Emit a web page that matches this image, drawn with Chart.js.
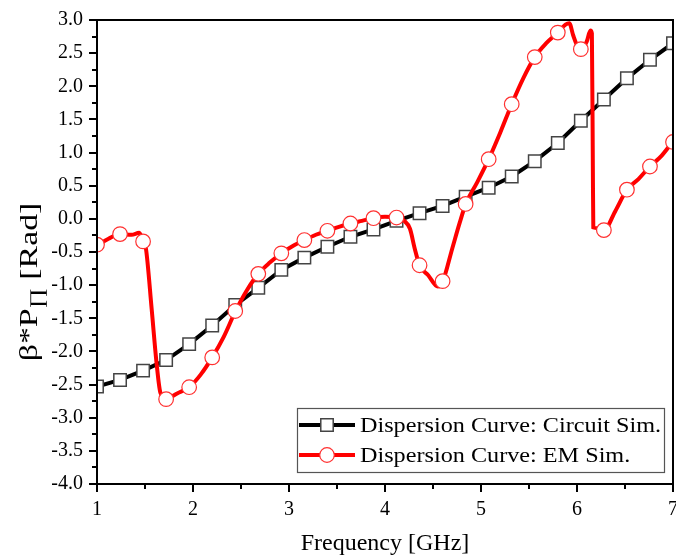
<!DOCTYPE html>
<html>
<head>
<meta charset="utf-8">
<script src="https://cdn.jsdelivr.net/npm/chart.js@4"></script>
<style>
html,body{margin:0;padding:0;background:#fff;}
#wrap{width:676px;height:560px;}
</style>
</head>
<body>
<div id="wrap"><canvas id="c" width="676" height="560"></canvas></div>
<script>
// ---- data ----
const markerFreq = [1.00,1.24,1.48,1.72,1.96,2.20,2.44,2.68,2.92,3.16,3.40,3.64,3.88,4.12,4.36,4.60,4.84,5.08,5.32,5.56,5.80,6.04,6.28,6.52,6.76,7.00];
const circuitVals = [-2.53,-2.43,-2.29,-2.13,-1.89,-1.61,-1.30,-1.04,-0.77,-0.585,-0.42,-0.27,-0.16,-0.03,0.085,0.195,0.335,0.47,0.64,0.87,1.145,1.48,1.80,2.12,2.40,2.65];
const emMarkerVals = [-0.39,-0.23,-0.34,-2.72,-2.54,-2.09,-1.39,-0.83,-0.52,-0.32,-0.18,-0.07,0.01,0.02,-0.70,-0.94,0.225,0.90,1.73,2.44,2.81,2.56,-0.17,0.44,0.79,1.16];
const emLineFreq = [1.00,1.12,1.24,1.36,1.44,1.48,1.51,1.57,1.62,1.66,1.72,1.84,1.96,2.08,2.20,2.32,2.44,2.56,2.68,2.80,2.92,3.04,3.16,3.28,3.40,3.52,3.64,3.76,3.88,4.00,4.12,4.20,4.26,4.31,4.36,4.45,4.55,4.60,4.70,4.78,4.84,4.96,5.08,5.20,5.32,5.44,5.56,5.68,5.80,5.88,5.92,5.96,6.00,6.04,6.10,6.14,6.155,6.165,6.17,6.22,6.28,6.40,6.52,6.64,6.76,6.88,7.00];
const emLineVals = [-0.40,-0.30,-0.23,-0.24,-0.21,-0.33,-0.45,-1.37,-2.17,-2.62,-2.71,-2.63,-2.54,-2.35,-2.09,-1.78,-1.40,-1.08,-0.83,-0.66,-0.52,-0.41,-0.32,-0.24,-0.18,-0.12,-0.07,-0.03,0.01,0.03,0.02,-0.03,-0.15,-0.45,-0.70,-0.85,-1.02,-0.95,-0.45,-0.05,0.22,0.55,0.90,1.30,1.73,2.12,2.44,2.65,2.81,2.93,2.95,2.77,2.62,2.56,2.67,2.84,2.80,0.80,-0.13,-0.14,-0.17,0.12,0.44,0.60,0.79,0.95,1.17];
const seriesNames = ['Dispersion Curve: Circuit Sim.','Dispersion Curve: EM Sim.'];
const xTitle = 'Frequency [GHz]';
const yTitleParts = ['β*P','∏',' [Rad]'];

const SERIF = "'Liberation Serif','Times New Roman',serif";
const BLACK_STYLE = {line:'#000000', mark:'#444444', style:'rect', r:8.8, bw:1.5};
const RED_STYLE = {line:'#ff0000', mark:'#ff3030', style:'circle', r:7.3, bw:1.2};

function drawMarker(ctx, st, x, y){
  ctx.save();
  ctx.fillStyle = '#fff'; ctx.strokeStyle = st.mark; ctx.lineWidth = st.bw;
  ctx.beginPath();
  if (st.style === 'rect'){ const s = Math.SQRT1_2*st.r; ctx.rect(x-s,y-s,2*s,2*s); }
  else { ctx.arc(x,y,st.r,0,Math.PI*2); }
  ctx.fill(); ctx.stroke();
  ctx.restore();
}

const framePlugin = {
  id:'frame',
  afterDraw(chart){
    const {ctx, chartArea:a, scales:{x,y}} = chart;
    ctx.save();
    ctx.strokeStyle = '#000'; ctx.lineWidth = 2;
    ctx.strokeRect(a.left, a.top, a.right-a.left, a.bottom-a.top);
    ctx.lineWidth = 2;
    ctx.beginPath();
    for (let k=0;k<=28;k++){
      const v = -4 + k*0.25;
      const py = Math.round(y.getPixelForValue(v));
      const len = (k%2===0)?8:5;
      ctx.moveTo(a.left-len, py); ctx.lineTo(a.left, py);
    }
    for (let k=0;k<=12;k++){
      const v = 1 + k*0.5;
      const px = Math.round(x.getPixelForValue(v));
      const len = (k%2===0)?8:5;
      ctx.moveTo(px, a.bottom); ctx.lineTo(px, a.bottom+len);
    }
    ctx.stroke();

    // legend
    const lx=297, ly=408, lw=367, lh=64;
    ctx.fillStyle='#fff'; ctx.fillRect(lx,ly,lw,lh);
    ctx.strokeStyle='#555'; ctx.lineWidth=1.2; ctx.strokeRect(lx+0.5,ly+0.5,lw,lh);
    const rows=[{st:BLACK_STYLE, name:seriesNames[0], yc:425},{st:RED_STYLE, name:seriesNames[1], yc:455}];
    rows.forEach(r=>{
      ctx.strokeStyle=r.st.line; ctx.lineWidth=4;
      ctx.beginPath(); ctx.moveTo(299,r.yc); ctx.lineTo(355,r.yc); ctx.stroke();
      drawMarker(ctx, r.st, 327, r.yc);
      ctx.save();
      ctx.translate(360, r.yc);
      ctx.scale(1.1,1);
      ctx.fillStyle='#000'; ctx.font='22px '+SERIF; ctx.textBaseline='middle'; ctx.textAlign='left';
      ctx.fillText(r.name, 0, 1);
      ctx.restore();
    });

    // x title
    ctx.fillStyle='#000'; ctx.font='24px '+SERIF; ctx.textAlign='center'; ctx.textBaseline='middle';
    ctx.fillText(xTitle, (a.left+a.right)/2, 544);

    // y title with subscript
    ctx.save();
    ctx.translate(29, 282);
    ctx.rotate(-Math.PI/2);
    ctx.scale(1.3,1);
    ctx.textBaseline='alphabetic'; ctx.textAlign='left';
    const fMain='26px '+SERIF, fSub='19px '+SERIF;
    ctx.font=fMain; const w0=ctx.measureText(yTitleParts[0]).width;
    const w2=ctx.measureText(yTitleParts[2]).width;
    ctx.font=fSub; const w1=ctx.measureText(yTitleParts[1]).width;
    const total=w0+w1+w2;
    let cx=-total/2;
    ctx.font=fMain; ctx.fillText(yTitleParts[0], cx, 8); cx+=w0;
    ctx.font=fSub; ctx.fillText(yTitleParts[1], cx, 14); cx+=w1;
    ctx.font=fMain; ctx.fillText(yTitleParts[2], cx, 8);
    ctx.restore();

    ctx.restore();
  }
};

const toPts = (xs, ys) => xs.map((v,i)=>({x:v, y:ys[i]}));

new Chart(document.getElementById('c'), {
  type:'line',
  data:{
    datasets:[
      { label:seriesNames[1]+' markers', data:toPts(markerFreq, emMarkerVals), showLine:false,
        pointStyle:'circle', pointRadius:RED_STYLE.r, pointBackgroundColor:'#fff',
        pointBorderColor:RED_STYLE.mark, pointBorderWidth:RED_STYLE.bw, order:0, clip:0 },
      { label:seriesNames[1], data:toPts(emLineFreq, emLineVals), borderColor:RED_STYLE.line,
        borderWidth:4, pointRadius:0, cubicInterpolationMode:'monotone', fill:false, order:1, clip:0 },
      { label:seriesNames[0], data:toPts(markerFreq, circuitVals), borderColor:BLACK_STYLE.line,
        borderWidth:4, pointStyle:'rect', pointRadius:BLACK_STYLE.r, pointBackgroundColor:'#fff',
        pointBorderColor:BLACK_STYLE.mark, pointBorderWidth:BLACK_STYLE.bw, tension:0, order:2, clip:0 }
    ]
  },
  options:{
    responsive:false, animation:false,
    layout:{autoPadding:false, padding:{left:0,right:3,top:20,bottom:0}},
    plugins:{legend:{display:false}, tooltip:{enabled:false}},
    scales:{
      x:{type:'linear', min:1, max:7,
         ticks:{stepSize:1, color:'#000', font:{family:SERIF, size:20}, padding:14, maxRotation:0},
         grid:{display:false, drawTicks:false}, border:{display:false},
         afterFit(s){ s.height=76; s.paddingLeft=0; s.paddingRight=0; }},
      y:{type:'linear', min:-4, max:3,
         ticks:{stepSize:0.5, color:'#000', font:{family:SERIF, size:20}, padding:14,
                callback:v=>Number(v).toFixed(1)},
         grid:{display:false, drawTicks:false}, border:{display:false},
         afterFit(s){ s.width=97; s.paddingTop=0; s.paddingBottom=0; }}
    }
  },
  plugins:[framePlugin]
});
</script>
</body>
</html>
